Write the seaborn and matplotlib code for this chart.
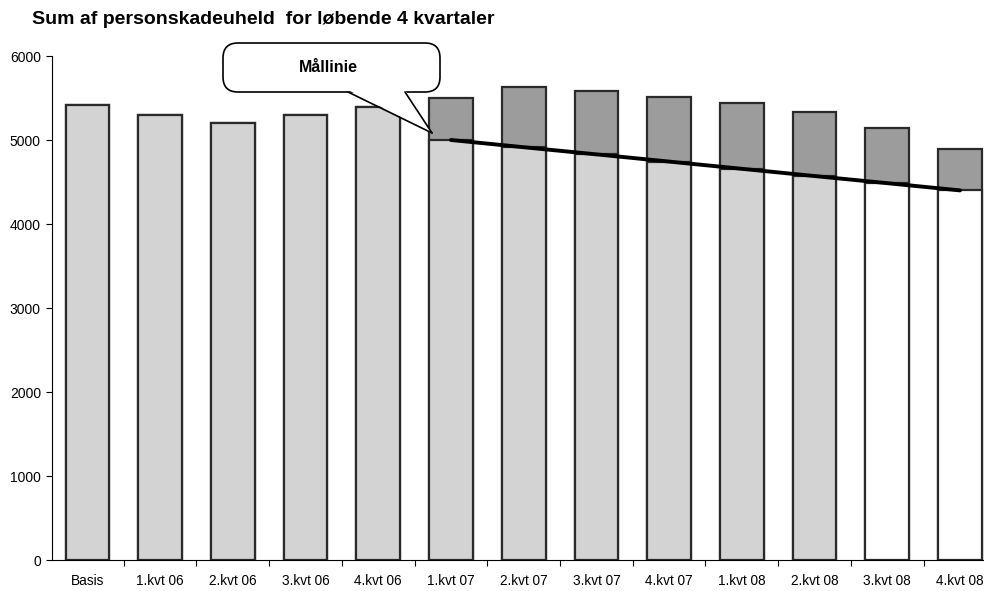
import numpy as np
import pandas as pd
import matplotlib
matplotlib.use("Agg")
import matplotlib.pyplot as plt
import seaborn as sns
from matplotlib.patches import FancyBboxPatch, Polygon
from matplotlib.transforms import IdentityTransform
from matplotlib.ticker import FixedLocator

categories = ["Basis", "1.kvt 06", "2.kvt 06", "3.kvt 06", "4.kvt 06",
              "1.kvt 07", "2.kvt 07", "3.kvt 07", "4.kvt 07",
              "1.kvt 08", "2.kvt 08", "3.kvt 08", "4.kvt 08"]
totals = [5420, 5300, 5200, 5300, 5390, 5500, 5630, 5580, 5510, 5440, 5330, 5140, 4890]
target = [np.nan, np.nan, np.nan, np.nan, np.nan,
          5000, 4914, 4829, 4743, 4657, 4571, 4486, 4400]
yticks = [0, 1000, 2000, 3000, 4000, 5000, 6000]
title = "Sum af personskadeuheld  for løbende 4 kvartaler"
callout = "Mållinie"

sns.set_theme(style="white")
plt.rcParams["font.family"] = ["Liberation Sans", "DejaVu Sans"]
plt.rcParams["text.color"] = "black"
plt.rcParams["xtick.color"] = "black"
plt.rcParams["ytick.color"] = "black"

W, H = 984, 591
fig = plt.figure(figsize=(W / 100, H / 100), dpi=100)
ax = fig.add_axes([52 / W, (H - 560) / H, (W - 52) / W, (560 - 56) / H])

LIGHT = "#d3d3d3"
DARK = "#9c9c9c"
EDGE = "#2a2a2a"

has_target = [not np.isnan(t) for t in target]
top_colors = [DARK if h else LIGHT for h in has_target]
lower_vals = [tg if h else tt for tt, tg, h in zip(totals, target, has_target)]
lower_colors = [LIGHT] * 11 + ["white"] * 2

df = pd.DataFrame({"cat": categories, "total": totals, "lower": lower_vals, "target": target})
df["pos"] = np.arange(len(categories))

sns.barplot(data=df, x="cat", y="total", hue="cat", palette=top_colors, legend=False,
            width=0.6, saturation=1, edgecolor=EDGE, linewidth=1.6, ax=ax)
sns.barplot(data=df, x="cat", y="lower", hue="cat", palette=lower_colors, legend=False,
            width=0.6, saturation=1, edgecolor=EDGE, linewidth=1.6, ax=ax)

line_df = df[df["target"].notna()]
sns.lineplot(x=line_df["pos"].to_numpy(), y=line_df["target"].to_numpy(), color="black",
             linewidth=2.8, ax=ax, zorder=5)

ax.set_xlim(-0.487, 12.33)
ax.set_ylim(0, 6000)
ax.set_yticks(yticks)
ax.set_yticklabels([str(v) for v in yticks], fontsize=10)
ax.set_xticks(range(len(categories)))
ax.set_xticklabels(categories, fontsize=9.8)
ax.xaxis.set_minor_locator(FixedLocator(np.arange(0.5, 12.5, 1.0)))
ax.tick_params(axis="x", which="major", length=0, pad=10)
ax.tick_params(axis="x", which="minor", length=4, width=0.8, color="black", direction="out", bottom=True)
ax.tick_params(axis="y", length=4, width=0.8, color="black", direction="out", left=True, pad=4)
ax.set_xlabel("")
ax.set_ylabel("")
for s in ["top", "right"]:
    ax.spines[s].set_visible(False)
for s in ["left", "bottom"]:
    ax.spines[s].set_color("black")
    ax.spines[s].set_linewidth(0.8)

fig.text(32 / W, 1 - 20 / H, title, fontsize=14, fontweight="bold", va="center", ha="left",
         color="black")

# Callout (pixel coordinates, y measured from top)
def P(x, y):
    return (x, H - y)

tr = IdentityTransform()
bx0, by0, bx1, by1 = 223, 43, 440, 92
box = FancyBboxPatch(P(bx0, by1), bx1 - bx0, by1 - by0,
                     boxstyle="round,pad=0,rounding_size=15", transform=tr,
                     facecolor="white", edgecolor="black", linewidth=1.2, zorder=10)
fig.patches.append(box)
tail = Polygon([P(348, by1 - 2), P(405, by1 - 2), P(432, 133)], closed=True,
               transform=tr, facecolor="white", edgecolor="none", zorder=11)
fig.patches.append(tail)
for (xa, ya) in [(348, by1), (405, by1)]:
    fig.lines.append(plt.Line2D([xa, 432], [H - ya, H - 133], transform=tr,
                                color="black", linewidth=1.2, zorder=12))
fig.text(328 / W, 1 - 68 / H, callout, fontsize=11.5, fontweight="bold", ha="center", va="center",
         zorder=13, color="black")

fig.savefig("out.png", dpi=100)
